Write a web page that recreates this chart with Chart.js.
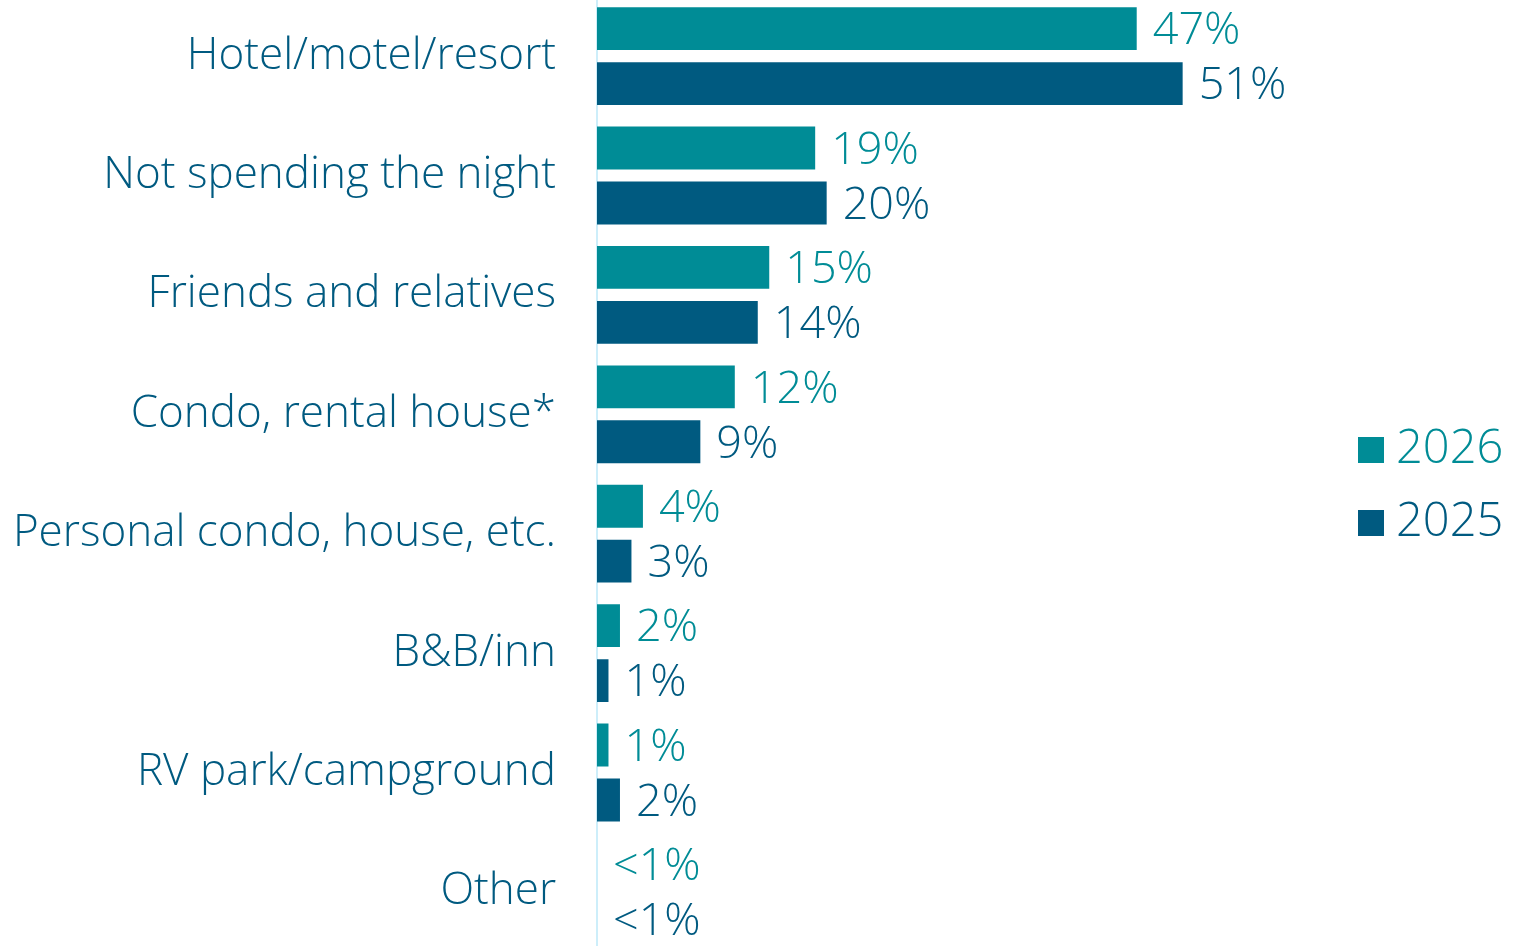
<!DOCTYPE html>
<html>
<head>
<meta charset="utf-8">
<script src="https://cdn.jsdelivr.net/npm/chart.js@4"></script>
<style>
  html, body { margin: 0; padding: 0; background: #fff; overflow: hidden; }
  /* shifted up so the category bands run from y=-4 to y=952 */
  #wrap { position: absolute; left: 0; top: -30px; width: 1514px; height: 1008px; }
  .legend { position: absolute; left: 1358px; font-family: 'Open Sans', sans-serif; font-weight: 300; font-size: 47px; line-height: 60px; }
  .legend span.sw { display: inline-block; width: 26px; height: 26px; margin-right: 12px; vertical-align: 0px; }
</style>
</head>
<body>
<div id="wrap"><canvas id="stayChart"></canvas></div>
<div class="legend" id="leg2026" style="top:415px;color:#008c96"><span class="sw" style="background:#008c96"></span>2026</div>
<div class="legend" id="leg2025" style="top:488px;color:#005a80"><span class="sw" style="background:#005a80"></span>2025</div>
<script>
// data
const categories = ['Hotel/motel/resort', 'Not spending the night', 'Friends and relatives', 'Condo, rental house*',
    'Personal condo, house, etc.', 'B&B/inn', 'RV park/campground', 'Other']
const values2026 = [47, 19, 15, 12, 4, 2, 1, 0]
const values2025 = [51, 20, 14, 9, 3, 1, 2, 0]
const labels2026 = ['47%', '19%', '15%', '12%', '4%', '2%', '1%', '<1%']
const labels2025 = ['51%', '20%', '14%', '9%', '3%', '1%', '2%', '<1%']

const teal = '#008c96'
const navy = '#005a80'
const fontFamily = "'Open Sans', sans-serif"

// write the % text at the end of each bar
const barLabels = {
    id: 'barLabels',
    afterDatasetsDraw(chart) {
        const ctx = chart.ctx
        const texts = [labels2026, labels2025]
        ctx.save()
        ctx.font = '300 45px ' + fontFamily
        ctx.textAlign = 'left'
        ctx.textBaseline = 'middle'
        chart.data.datasets.forEach((ds, i) => {
            ctx.fillStyle = ds.backgroundColor
            chart.getDatasetMeta(i).data.forEach((bar, j) => {
                ctx.fillText(texts[i][j], bar.x + 16, bar.y + 3)
            })
        })
        ctx.restore()
    }
}

new Chart(document.getElementById('stayChart'), {
    type: 'bar',
    data: {
        labels: categories,
        datasets: [
            { label: '2026', data: values2026, backgroundColor: teal },
            { label: '2025', data: values2025, backgroundColor: navy }
        ]
    },
    options: {
        indexAxis: 'y',
        responsive: true,
        maintainAspectRatio: false,
        animation: false,
        categoryPercentage: 0.92,
        barPercentage: 0.78,
        layout: { padding: { left: 0, right: 228, top: 0, bottom: 0 } },
        plugins: {
            legend: { display: false },
            tooltip: { enabled: false }
        },
        scales: {
            x: { display: false, min: 0, max: 60 },
            y: {
                afterFit: scale => { scale.width = 597 },
                // tick marks hidden, their length only spaces the labels off the axis
                grid: { display: false, drawTicks: true, tickLength: 41 },
                border: { display: true, color: '#cdeefa', width: 2 },
                ticks: {
                    padding: 0,
                    color: navy,
                    font: { family: fontFamily, size: 44, weight: 300 }
                }
            }
        }
    },
    plugins: [barLabels]
})
</script>
</body>
</html>
